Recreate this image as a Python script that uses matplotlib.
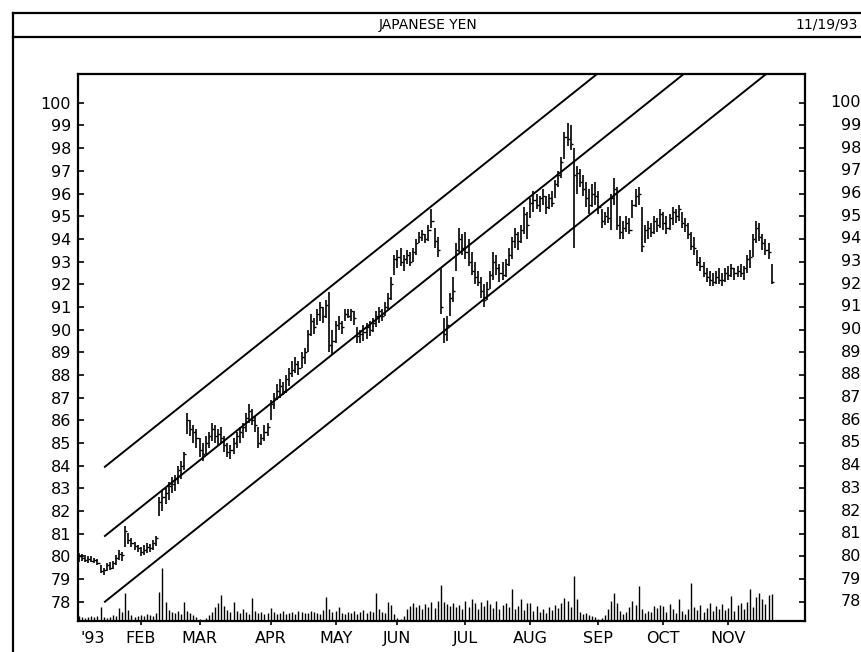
import matplotlib
matplotlib.use("Agg")
import matplotlib.pyplot as plt
import matplotlib.transforms as mtransforms
from matplotlib import font_manager
from matplotlib.lines import Line2D
import numpy as np

# Japanese yen futures, daily bars; trading day 0 = 4 Jan 1993, day 224 = 19 Nov 1993
high = [
    80.15, 80.1, 80.05, 80.0, 80.0, 79.95, 79.9, 79.6, 79.5, 79.7, 79.75, 79.8, 80.05, 80.3, 80.2, 81.35, 81.05, 80.8, 80.65, 80.5,
    80.4, 80.5, 80.6, 80.55, 80.7, 80.9, 82.6, 82.9, 83.0, 83.3, 83.5, 83.6, 84.0, 84.2, 84.6, 86.3, 86.0, 85.8, 85.6,
    85.2, 85.0, 85.3, 85.5, 85.9, 85.8, 85.6, 85.7, 85.3, 85.0, 84.9, 85.2, 85.5, 85.7, 85.9, 86.3, 86.7, 86.5, 86.2, 85.7, 85.4, 85.8, 85.9,
    86.9, 87.2, 87.6, 87.8, 87.7, 88.0, 88.3, 88.6, 88.8, 88.6, 89.0, 89.2, 90.0, 90.7, 90.5, 90.9, 91.2, 91.0, 91.3, 91.65, 90.0,
    90.4, 90.6, 90.4, 90.9, 90.9, 90.9, 90.8, 90.1, 90.0, 90.2, 90.3, 90.4, 90.5, 90.8, 91.0, 90.9, 91.2, 91.6, 92.3, 93.3,
    93.5, 93.6, 93.3, 93.5, 93.4, 93.6, 94.0, 94.3, 94.4, 94.2, 94.6, 95.3, 94.5, 94.1, 92.7, 90.5, 90.6, 91.6, 92.3, 93.8, 94.5, 94.2,
    94.3, 94.0, 93.4, 93.0, 92.6, 92.3, 92.0, 92.1, 92.6, 93.4, 93.3, 92.9, 93.0, 93.1, 93.6, 94.1, 94.5, 94.3, 94.6, 95.4, 95.2,
    95.8, 96.1, 96.0, 95.9, 96.2, 95.9, 96.0, 96.1, 96.6, 97.0, 97.6, 98.7, 99.1, 99.0, 98.0, 97.2, 97.1, 96.8, 96.5, 96.2, 96.4, 96.5,
    96.1, 95.3, 95.2, 95.4, 96.0, 96.7, 96.3, 95.0, 94.8, 95.0, 94.9, 95.7, 96.2, 96.3, 95.4, 94.6, 94.8, 94.7, 95.0, 94.9, 95.3,
    95.2, 95.0, 95.1, 95.4, 95.3, 95.5, 95.2, 94.9, 94.7, 94.3, 94.1, 93.5, 93.2, 93.0, 92.7, 92.6, 92.5, 92.6, 92.7, 92.5, 92.7,
    92.8, 92.9, 92.7, 92.8, 92.9, 92.8, 93.3, 93.5, 94.2, 94.8, 94.7, 94.2, 94.0, 93.8, 92.9,
]
low = [
    79.75, 79.8, 79.75, 79.7, 79.75, 79.7, 79.6, 79.25, 79.2, 79.35, 79.4, 79.45, 79.6, 79.85, 79.8, 80.4, 80.55, 80.4, 80.3, 80.2,
    80.0, 80.05, 80.15, 80.2, 80.3, 80.45, 81.8, 82.0, 82.3, 82.5, 82.8, 82.9, 83.2, 83.4, 83.8, 85.4, 85.3, 85.0, 84.8,
    84.4, 84.2, 84.5, 84.8, 85.1, 85.0, 84.9, 85.0, 84.6, 84.4, 84.3, 84.5, 84.8, 85.0, 85.2, 85.5, 85.9, 85.8, 85.5, 84.8, 84.9, 85.1, 85.3,
    86.0, 86.5, 86.9, 87.0, 87.1, 87.2, 87.5, 87.9, 88.1, 88.0, 88.3, 88.5, 89.0, 89.7, 89.8, 90.2, 90.4, 90.3, 90.5, 89.0, 88.9,
    89.4, 90.0, 89.8, 90.4, 90.5, 90.4, 90.2, 89.4, 89.4, 89.5, 89.6, 89.7, 89.9, 90.1, 90.3, 90.4, 90.6, 90.9, 91.3, 92.4,
    92.7, 92.8, 92.6, 92.9, 92.8, 93.0, 93.3, 93.8, 93.9, 93.8, 93.9, 94.5, 93.6, 93.2, 90.7, 89.4, 89.5, 90.6, 91.2, 92.6, 93.4, 93.3,
    93.1, 92.8, 92.4, 92.0, 91.9, 91.4, 91.0, 91.3, 91.8, 92.2, 92.4, 92.1, 92.2, 92.3, 92.8, 93.1, 93.6, 93.5, 93.8, 94.2, 94.0,
    94.9, 95.2, 95.3, 95.2, 95.5, 95.1, 95.3, 95.4, 95.8, 96.3, 96.7, 97.5, 98.1, 97.9, 93.6, 96.0, 96.3, 95.9, 95.4, 95.1, 95.4, 95.5,
    95.1, 94.5, 94.6, 94.7, 94.4, 95.5, 94.4, 94.0, 94.0, 94.3, 94.2, 94.9, 95.4, 95.5, 93.4, 93.8, 94.0, 94.1, 94.2, 94.3, 94.5,
    94.4, 94.2, 94.4, 94.6, 94.7, 94.8, 94.5, 94.3, 94.0, 93.5, 93.3, 92.8, 92.6, 92.3, 92.1, 91.9, 91.9, 92.0, 92.0, 91.9, 92.1,
    92.2, 92.3, 92.2, 92.3, 92.3, 92.2, 92.5, 92.7, 93.2, 93.8, 93.9, 93.5, 93.3, 93.1, 92.0,
]
close = [
    80.0, 79.95, 79.85, 79.9, 79.8, 79.85, 79.7, 79.35, 79.4, 79.6, 79.5, 79.7, 79.95, 80.1, 80.05, 81.1, 80.7, 80.6, 80.45, 80.35,
    80.2, 80.3, 80.4, 80.35, 80.6, 80.8, 82.4, 82.6, 82.8, 83.1, 83.2, 83.4, 83.8, 84.0, 84.5, 86.0, 85.6, 85.5, 85.2,
    84.7, 84.5, 85.0, 85.3, 85.6, 85.3, 85.4, 85.2, 84.9, 84.6, 84.7, 85.0, 85.3, 85.5, 85.7, 86.1, 86.4, 86.0, 85.8, 85.0, 85.2, 85.5, 85.7,
    86.7, 87.0, 87.3, 87.5, 87.3, 87.8, 88.1, 88.2, 88.5, 88.3, 88.8, 89.0, 89.8, 90.4, 90.1, 90.7, 91.0, 90.6, 91.1, 89.3, 89.5,
    90.2, 90.3, 90.1, 90.7, 90.6, 90.8, 90.5, 89.7, 89.8, 89.9, 90.1, 90.0, 90.3, 90.6, 90.8, 90.6, 91.0, 91.4, 92.0, 93.1,
    93.2, 93.0, 93.1, 93.3, 93.0, 93.4, 93.8, 94.1, 94.2, 94.0, 94.4, 94.8, 93.9, 93.5, 91.0, 89.8, 90.2, 91.4, 91.7, 93.5, 94.0, 93.6,
    93.4, 93.0, 92.6, 92.3, 92.1, 91.7, 91.3, 91.8, 92.4, 93.0, 92.7, 92.5, 92.4, 92.9, 93.3, 93.9, 94.2, 93.9, 94.4, 95.1, 94.6,
    95.6, 95.7, 95.5, 95.8, 95.9, 95.4, 95.8, 95.6, 96.4, 96.8, 97.4, 98.5, 98.4, 98.2, 96.8, 96.9, 96.5, 96.2, 95.8, 95.5, 96.0, 95.9,
    95.4, 94.8, 95.0, 94.9, 95.8, 96.2, 94.6, 94.3, 94.5, 94.7, 94.4, 95.5, 95.9, 96.0, 93.7, 94.4, 94.5, 94.3, 94.8, 94.6, 95.1,
    94.7, 94.5, 94.9, 95.2, 95.0, 95.3, 94.7, 94.6, 94.2, 93.7, 93.6, 93.0, 92.8, 92.5, 92.3, 92.2, 92.1, 92.3, 92.2, 92.2, 92.5,
    92.4, 92.7, 92.5, 92.6, 92.5, 92.7, 93.1, 93.2, 94.0, 94.5, 94.1, 93.8, 93.5, 93.4, 92.1,
]
volume = [
    5, 4, 3, 4, 5, 4, 5, 14, 4, 3, 4, 6, 5, 13, 9, 28, 11, 6, 4, 5,
    6, 5, 7, 6, 5, 8, 29, 53, 19, 11, 9, 8, 10, 7, 19, 10, 8, 6, 4,
    2, 1, 3, 6, 9, 14, 18, 26, 15, 11, 9, 19, 10, 8, 12, 9, 7, 23, 10, 8, 9, 7, 8,
    13, 9, 7, 8, 10, 7, 8, 9, 7, 10, 9, 8, 8, 10, 9, 8, 7, 11, 24, 12, 9,
    10, 14, 8, 7, 9, 8, 10, 7, 9, 11, 8, 10, 9, 28, 12, 9, 8, 19, 16, 7,
    3, 2, 5, 12, 15, 18, 14, 16, 12, 17, 14, 19, 13, 20, 36, 19, 17, 15, 18, 14, 16, 12,
    20, 14, 22, 18, 12, 19, 15, 21, 17, 13, 20, 12, 16, 18, 14, 32, 12, 15, 22, 11, 18,
    18, 10, 15, 9, 12, 8, 14, 11, 16, 13, 18, 23, 20, 14, 45, 22, 9, 7, 8, 6, 5, 4,
    2, 3, 6, 12, 20, 28, 18, 10, 7, 9, 14, 20, 16, 35, 12, 8, 10, 9, 15, 13, 16,
    15, 9, 17, 12, 8, 22, 10, 7, 12, 38, 14, 11, 16, 9, 13, 18, 10, 15, 12, 17, 11,
    13, 25, 10, 16, 18, 12, 19, 32, 14, 24, 28, 22, 17, 26, 27,
]

month_days = [20, 39, 62, 83, 103, 125, 146, 168, 189, 210]
month_labels = ["FEB", "MAR", "APR", "MAY", "JUN", "JUL", "AUG", "SEP", "OCT", "NOV"]
year_day = 4.5
year_label = "'93"

# regression channel: (start day, end day) and prices at those days
channel_days = [8.4, 234]
channel_lower = [78.0, 102.55]
channel_mid = [80.9, 105.45]
channel_upper = [83.95, 108.5]

price_ticks = list(range(78, 101))

# narrow plotter-like font if there is one
names = {f.name for f in font_manager.fontManager.ttflist}
family = "DejaVu Sans"
for cand in ["Liberation Sans Narrow", "DejaVu Sans Condensed"]:
    if cand in names:
        family = cand
        break
plt.rcParams["font.family"] = family

days = np.arange(len(close))

fig = plt.figure(figsize=(8.62, 6.52), dpi=100)
ax = fig.add_axes([78 / 862, 31 / 652, 727 / 862, 547 / 652])

# volume at the bottom, on its own hidden scale
axv = ax.twinx()
axv.vlines(days, 0, volume, color="black", lw=1.0)
axv.set_ylim(0, 547)
axv.set_yticks([])
for s in axv.spines.values():
    s.set_visible(False)

ax.vlines(days, low, high, color="black", lw=1.2)
ax.hlines(close, days, days + 0.7, color="black", lw=1.0)

for yy in (channel_lower, channel_mid, channel_upper):
    ax.plot(channel_days, yy, color="black", lw=1.4)

ax.set_xlim(-0.3, 234.8)
ax.set_ylim(77.15, 101.27)

ax.set_yticks(price_ticks)
ax.set_yticklabels([str(t) for t in price_ticks])
ax.tick_params(axis="y", direction="in", length=4, width=1.2, left=True, right=True,
               labelleft=True, labelright=False, labelsize=11.5, pad=5)

# price scale repeated at the right page edge
edge = mtransforms.blended_transform_factory(fig.transFigure, ax.transData)
for t in price_ticks:
    ax.text(861 / 862, t, str(t), transform=edge, ha="right", va="center",
            fontsize=11.5, clip_on=False)

ax.set_xticks(month_days)
ax.set_xticklabels(month_labels)
ax.set_xticks([year_day], [year_label], minor=True)
ax.tick_params(axis="x", which="major", direction="out", length=3, width=1.2, labelsize=11.5, pad=4)
ax.tick_params(axis="x", which="minor", length=0, labelsize=11.5, pad=7)

for s in ax.spines.values():
    s.set_linewidth(1.6)

# page frame and header
fig.add_artist(Line2D([13 / 862, 1.0], [1 - 13 / 652, 1 - 13 / 652], color="black", lw=1.6))
fig.add_artist(Line2D([13 / 862, 1.0], [1 - 37 / 652, 1 - 37 / 652], color="black", lw=1.6))
fig.add_artist(Line2D([13 / 862, 13 / 862], [0.0, 1 - 13 / 652], color="black", lw=1.6))
fig.text(428 / 862, 1 - 25 / 652, "JAPANESE YEN", ha="center", va="center", fontsize=10)
fig.text(858 / 862, 1 - 25 / 652, "11/19/93", ha="right", va="center", fontsize=10)

fig.savefig("out.png", dpi=100, facecolor="white")
